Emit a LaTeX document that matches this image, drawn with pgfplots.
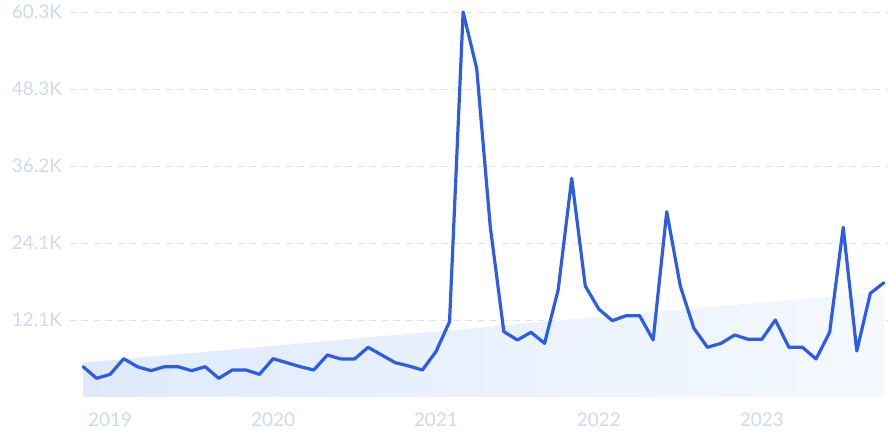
\documentclass[border=0pt]{standalone}
\usepackage{pgfplots}
\pgfplotsset{compat=1.18}
\usepackage{fontspec}
\setmainfont{Lato}
\definecolor{lineblue}{RGB}{45,92,229}
\definecolor{gridc}{RGB}{216,224,246}
\definecolor{labc}{RGB}{208,216,242}
\definecolor{areaL}{RGB}{222,234,252}
\definecolor{areaR}{RGB}{245,249,255}
\begin{document}
\begin{tikzpicture}
\begin{axis}[
  scale only axis,
  width=818bp, height=397bp,
  xmin=-0.96, xmax=59.3,
  ymin=0, ymax=62180,
  axis line style={draw=none},
  major tick length=0pt,
  xtick={2,14,26,38,50},
  xticklabels={2019,2020,2021,2022,2023},
  ytick={12060,24120,36180,48240,60300},
  yticklabels={12.1K,24.1K,36.2K,48.3K,60.3K},
  ymajorgrids,
  major grid style={gridc, line width=0.8bp, dash pattern=on 6bp off 6bp},
  tick label style={font=\fontsize{19}{19}\selectfont, text=labc},
  yticklabel style={anchor=east, inner sep=0pt, xshift=-8bp},
  xticklabel style={anchor=north, inner sep=0pt, yshift=-16bp},
  clip=false,
]
\addplot[draw=none, left color=areaL, right color=areaR] coordinates {(0,0) (0,5375) (59,16490) (59,0)} -- cycle;
\addplot[lineblue, line width=3.2bp, line join=round, line cap=round] coordinates {
(0,4745) (1,2928) (2,3550) (3,6000) (4,4745) (5,4120) (6,4745) (7,4745) (8,4120) (9,4745)
(10,2928) (11,4230) (12,4230) (13,3550) (14,6000) (15,5375) (16,4745) (17,4230) (18,6577) (19,5950)
(20,5950) (21,7780) (22,6577) (23,5375) (24,4855) (25,4230) (26,7100) (27,11800) (28,60300) (29,51470)
(30,26670) (31,10230) (32,8930) (33,10130) (34,8400) (35,16760) (36,34240) (37,17380) (38,13750) (39,11950)
(40,12730) (41,12730) (42,8930) (43,29020) (44,17380) (45,10760) (46,7780) (47,8400) (48,9710) (49,9030)
(50,9030) (51,12060) (52,7780) (53,7780) (54,5950) (55,10130) (56,26570) (57,7200) (58,16240) (59,17900)
};
\coordinate (sw) at (rel axis cs:0,0);
\coordinate (ne) at (rel axis cs:1,1);
\end{axis}
\pgfresetboundingbox
\path[use as bounding box] ([xshift=-70bp,yshift=-46bp]sw) rectangle (ne);
\end{tikzpicture}
\end{document}
